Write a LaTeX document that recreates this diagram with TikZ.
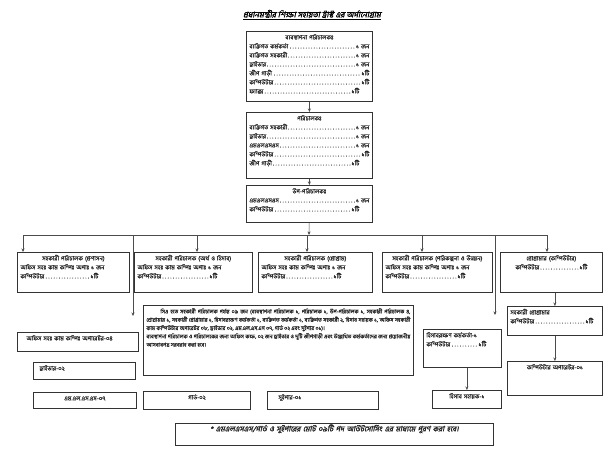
\documentclass[tikz,border=0pt]{standalone}
\usepackage{fontspec}
\newfontfamily\bn[Script=Bengali,FakeBold=0.6]{Hind Siliguri}
\newfontfamily\bnhead[Script=Bengali,FakeSlant=0.2,FakeBold=2]{Hind Siliguri}
\usetikzlibrary{arrows.meta}
\usetikzlibrary{positioning}
\newcommand{\pline}[2]{#1\dotfill#2}
\newcommand{\tline}[2]{#1\dotfill#2\hspace*{10pt}}
\newcommand{\headline}[1]{\makebox[\linewidth][c]{#1}}

\begin{document}
\begin{tikzpicture}[x=1pt,y=-1pt]
\tikzstyle{office}=[draw=black!80,line width=0.8pt,anchor=north west,inner sep=3pt,text height=5pt,text=black!85,align=left,font=\bn\fontsize{6}{9}\selectfont]
\tikzstyle{wire}=[draw=black!70,line width=0.6pt]
\tikzstyle{link}=[wire,-{Stealth[length=3.5pt,width=3pt]}]
\useasboundingbox[fill=white] (0,0) rectangle (613,450);

\node (title) at (312,15) {\bnhead\fontsize{8}{10}\selectfont\underline{প্রধানমন্ত্রীর শিক্ষা সহায়তা ট্রাস্ট এর অর্গানোগ্রাম}};

% top chain
\node [office,text width=120pt,text depth=59pt] (md) at (246,31) {\headline{ব্যবস্থাপনা পরিচালকঃ}\\
  \tline{ব্যক্তিগত কর্মকর্তা}{১ জন}\\
  \tline{ব্যক্তিগত সহকারী}{১ জন}\\
  \tline{ড্রাইভার}{১ জন}\\
  \tline{জীপ গাড়ী}{১টি}\\
  \tline{কম্পিউটার}{১টি}\\
  \tline{ফ্যাক্স}{১টি}};
\node [office,text width=120pt,text depth=55pt] (dir) at (246,112) {\headline{পরিচালকঃ}\\
  \tline{ব্যক্তিগত সহকারী}{১ জন}\\
  \tline{ড্রাইভার}{১ জন}\\
  \tline{এমএলএসএস}{১ জন}\\
  \tline{কম্পিউটার}{১টি}\\
  \tline{জীপ গাড়ী}{১টি}};
\node [office,text width=120pt,text depth=26pt] (dd) at (246,185) {\headline{উপ-পরিচালকঃ}\\
  \tline{এমএলএসএস}{১ জন}\\
  \tline{কম্পিউটার}{১টি}};

\draw[link] (md) -- (dir);
\draw[link] (dir) -- (dd);

% bus
\coordinate (busL) at (23,235);
\coordinate (busR) at (547,235);
\coordinate (busM) at (309,235);
\coordinate (tapB) at (197,235);
\coordinate (tapC) at (307,235);
\coordinate (tapD) at (422,235);
\draw[link] (dd) -- (busM);
\draw[wire] (busL) -- (busR);

% assistant directors
\node [office,text width=106pt,text depth=29pt] (adm) at (17,252) {\headline{সহকারী পরিচালক (প্রশাসন)}\\
  অফিস সহঃ কাম কম্পিঃ অপাঃ ১ জন\\
  \pline{কম্পিউটার}{১টি}\hspace*{28pt}};
\node [office,text width=112pt,text depth=29pt] (fin) at (134,252) {\headline{সহকারী পরিচালক (অর্থ ও হিসাব)}\\
  অফিস সহঃ কাম কম্পিঃ অপাঃ ১ জন\\
  \pline{কম্পিউটার}{১টি}\hspace*{32pt}};
\node [office,text width=108pt,text depth=29pt] (prg) at (258,252) {\headline{সহকারী পরিচালক (প্রোগ্রাম)}\\
  অফিস সহঃ কাম কম্পিঃ অপাঃ ১ জন\\
  \pline{কম্পিউটার}{১টি}\hspace*{28pt}};
\node [office,text width=104pt,text depth=29pt] (pln) at (382,252) {\headline{সহকারী পরিচালক (পরিকল্পনা ও উন্নয়ন)}\\
  অফিস সহঃ কাম কম্পিঃ অপাঃ ১ জন\\
  \pline{কম্পিউটার}{১টি}\hspace*{24pt}};
\node [office,text width=96pt,text depth=29pt] (cpg) at (500,252) {\headline{প্রোগ্রামার (কম্পিউটার)}\\
  \hspace*{12pt}\pline{কম্পিউটার}{১টি}\hspace*{12pt}};

\draw[link] (busL) -- (busL |- adm.north);
\draw[link] (tapB) -- (tapB |- fin.north);
\draw[link] (tapC) -- (tapC |- prg.north);
\draw[link] (tapD) -- (tapD |- pln.north);
\draw[link] (busR) -- (busR |- cpg.north);

\coordinate (dropL) at (133,316);
\coordinate (dropR) at (495,315);
\draw[link] (dropL |- busL) -- (dropL);
\draw[link] (dropR |- busR) -- (dropR);

% support staff
\node [office,text width=115pt,text depth=8pt] (osc) at (17,332) {\hspace*{6pt}অফিস সহঃ কাম কম্পিঃ অপারেটর-০৪};
\node [office,text width=96pt,text depth=6pt] (drv) at (33,362) {\hspace*{3pt}ড্রাইভার-০২};
\node [office,text width=97pt,text depth=5pt,align=center] (mls) at (33,392) {এম.এল.এস.এস-০৭};
\node [office,text width=101pt,text depth=7pt,align=center] (grd) at (143,391) {গার্ড-০২};
\node [office,text width=105pt,text depth=7pt] (swp) at (267,391) {\hspace*{8pt}সুইপার-০১};

\node [office,text width=264pt,text depth=59pt,align=justify,font=\bn\fontsize{5.5}{8.3}\selectfont] (sum) at (143,305) {\hspace*{14pt}সিএ হতে সহকারী পরিচালক পর্যন্ত ০৯ জন (ব্যবস্থাপনা পরিচালক ১, পরিচালক ১, উপ-পরিচালক ১, সহকারী পরিচালক ৪, প্রোগ্রামার ১, সহকারী প্রোগ্রামার ১, হিসাবরক্ষণ কর্মকর্তা ১, ব্যক্তিগত কর্মকর্তা ১, ব্যক্তিগত সহকারী ২, হিসাব সহায়ক ১, অফিস সহকারী কাম কম্পিউটার অপারেটর ০৮, ড্রাইভার ০২, এম.এল.এস.এস ০৭, গার্ড ০২ এবং সুইপার ০১)।\\
ব্যবস্থাপনা পরিচালক ও পরিচালকের জন্য অফিস কক্ষ, ০২ জন ড্রাইভার ও দুটি জীপগাড়ী এবং উল্লেখিত কর্মকর্তাদের জন্য প্রয়োজনীয় আসবাবপত্র সরবরাহ করা হবে।};

% accounts
\node [office,text width=72pt,text depth=27pt] (acc) at (423,329) {হিসাবরক্ষণ কর্মকর্তা-১\\
  \pline{কম্পিউটার}{১টি}\hspace*{12pt}};
\node [office,text width=63pt,text depth=7pt,align=center] (acs) at (432,390) {হিসাব সহায়ক-১};
\draw[link] (acs.north |- acc.south) -- (acs.north);

% programmer side
\node [office,text width=89pt,text depth=18pt] (aprg) at (507,306) {সহকারী প্রোগ্রামার\\
  \pline{কম্পিউটার}{১টি}\hspace*{6pt}};
\node [office,text width=89pt,text depth=23pt,align=center] (cop) at (507,361) {কম্পিউটার অপারেটর-০১};
\draw[link] (aprg.north |- cpg.south) -- (aprg.north);
\draw[link] (aprg) -- (cop);

\node [office,text width=312pt,text depth=11pt,align=center,font=\bnhead\fontsize{7.5}{9}\selectfont] (note) at (175,423) {* এমএলএসএস/গার্ড ও সুইপারের মোট ০৯টি পদ আউটসোর্সিং এর মাধ্যমে পূরণ করা হবে।};
\end{tikzpicture}
\end{document}
